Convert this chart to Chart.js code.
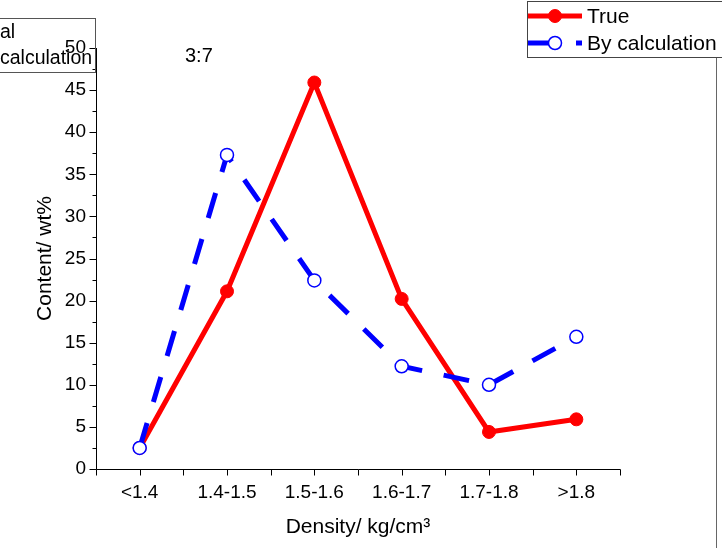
<!DOCTYPE html>
<html>
<head>
<meta charset="utf-8">
<script src="https://cdn.jsdelivr.net/npm/chart.js@4.4.0/dist/chart.umd.min.js"></script>
<style>
	html, body { margin: 0; padding: 0; background: #fff; }
	#wrap { width: 722px; height: 548px; }
</style>
</head>
<body>
<div id="wrap"><canvas id="densityChart" width="722" height="548"></canvas></div>
<script>
// density classes and content (wt%) per class
const densityBins = ["<1.4", "1.4-1.5", "1.5-1.6", "1.6-1.7", "1.7-1.8", ">1.8"];
const trueContent = [2.5, 21.1, 45.9, 20.2, 4.4, 5.9];
const calcContent = [2.5, 37.3, 22.4, 12.2, 10.0, 15.7];
const yMin = 0;
const yMax = 50;
const yStep = 5;

const FONT = "'Liberation Sans', Arial, sans-serif";

// axis lines with major/minor tick marks (Origin style)
const axisDecor = {
	id: "axisDecor",
	beforeDatasetsDraw(chart) {
		const ctx = chart.ctx;
		const area = chart.chartArea;
		const x = chart.scales.x;
		const y = chart.scales.y;
		const ax = Math.round(area.left) + 0.5;
		const ay = Math.round(area.bottom) + 0.5;
		ctx.save();
		ctx.strokeStyle = "#000";
		ctx.lineWidth = 1;
		ctx.beginPath();
		ctx.moveTo(ax, Math.round(area.top));
		ctx.lineTo(ax, ay);
		ctx.lineTo(Math.round(area.right) + 0.5, ay);
		for (let v = yMin; v <= yMax; v += yStep / 2) {
			const py = Math.round(y.getPixelForValue(v)) + 0.5;
			const len = v % yStep === 0 ? 7 : 4;
			ctx.moveTo(ax - len, py);
			ctx.lineTo(ax, py);
		}
		for (let i = -0.5; i <= densityBins.length - 0.5; i += 0.5) {
			const px = Math.round(x.getPixelForValue(i)) + 0.5;
			ctx.moveTo(px, ay);
			ctx.lineTo(px, ay + 6);
		}
		ctx.stroke();
		ctx.restore();
	},
	afterDraw(chart) {
		const ctx = chart.ctx;
		const sets = chart.data.datasets;
		ctx.save();

		// leftover legend frame at the top left
		ctx.strokeStyle = "#555";
		ctx.lineWidth = 1;
		ctx.strokeRect(-1.5, 18.5, 97, 54);
		ctx.fillStyle = "#000";
		ctx.font = "19.5px " + FONT;
		ctx.textAlign = "left";
		ctx.textBaseline = "alphabetic";
		ctx.fillText("al", 0, 38);
		ctx.fillText("calculation", 0, 64);

		// ratio note
		ctx.font = "20px " + FONT;
		ctx.fillText("3:7", 185, 62);

		// right frame line
		ctx.strokeStyle = "#666";
		ctx.beginPath();
		ctx.moveTo(716.5, 57.5);
		ctx.lineTo(716.5, 548);
		ctx.stroke();

		// legend
		ctx.strokeStyle = "#444";
		ctx.strokeRect(527.5, 1.5, 250, 56);
		const rows = [16, 43];
		sets.forEach(function(ds, k) {
			const ry = rows[k];
			ctx.save();
			ctx.strokeStyle = ds.borderColor;
			ctx.lineWidth = ds.borderWidth;
			ctx.setLineDash(ds.borderDash || []);
			ctx.beginPath();
			ctx.moveTo(528, ry);
			ctx.lineTo(582, ry);
			ctx.stroke();
			ctx.setLineDash([]);
			ctx.beginPath();
			ctx.arc(555, ry, ds.pointRadius, 0, Math.PI * 2);
			ctx.fillStyle = ds.pointBackgroundColor;
			ctx.fill();
			ctx.lineWidth = ds.pointBorderWidth;
			ctx.strokeStyle = ds.pointBorderColor;
			ctx.stroke();
			ctx.restore();
			ctx.fillStyle = "#000";
			ctx.font = "21px " + FONT;
			ctx.textBaseline = "middle";
			ctx.fillText(ds.label, 587, ry + 1);
		});
		ctx.restore();
	}
};

const config = {
	type: "line",
	data: {
		labels: densityBins,
		datasets: [
			{
				label: "True",
				data: trueContent,
				borderColor: "#ff0000",
				backgroundColor: "#ff0000",
				borderWidth: 5,
				pointRadius: 6.5,
				pointBackgroundColor: "#ff0000",
				pointBorderColor: "#ff0000",
				pointBorderWidth: 1,
				tension: 0,
				order: 2,
			},
			{
				label: "By calculation",
				data: calcContent,
				borderColor: "#0000ff",
				backgroundColor: "#0000ff",
				borderWidth: 5,
				borderDash: [26, 22],
				pointRadius: 6.5,
				pointBackgroundColor: "#ffffff",
				pointBorderColor: "#0000ff",
				pointBorderWidth: 1.5,
				tension: 0,
				order: 1,
			},
		],
	},
	options: {
		responsive: false,
		animation: false,
		layout: {
			padding: { left: 0, right: 102, top: 48, bottom: 0 },
		},
		plugins: {
			legend: { display: false },
			tooltip: { enabled: false },
		},
		scales: {
			x: {
				type: "category",
				offset: true,
				grid: { display: false, drawTicks: false },
				border: { display: false },
				ticks: {
					color: "#000",
					font: { family: FONT, size: 19 },
					padding: 12,
					autoSkip: false,
					maxRotation: 0,
				},
				title: {
					display: true,
					text: "Density/ kg/cm³",
					color: "#000",
					font: { family: FONT, size: 21 },
					padding: { top: 0, bottom: 8 },
				},
				afterFit: function(scale) {
					scale.height = 79;
				},
			},
			y: {
				min: yMin,
				max: yMax,
				grid: { display: false, drawTicks: false },
				border: { display: false },
				ticks: {
					stepSize: yStep,
					color: "#000",
					font: { family: FONT, size: 19 },
					padding: 10,
				},
				title: {
					display: true,
					text: "Content/ wt%",
					color: "#000",
					font: { family: FONT, size: 21 },
					padding: { top: 33, bottom: 0 },
				},
				afterFit: function(scale) {
					scale.width = 96;
				},
			},
		},
	},
	plugins: [axisDecor],
};

const densityChart = new Chart(document.getElementById("densityChart").getContext("2d"), config);
</script>
</body>
</html>
